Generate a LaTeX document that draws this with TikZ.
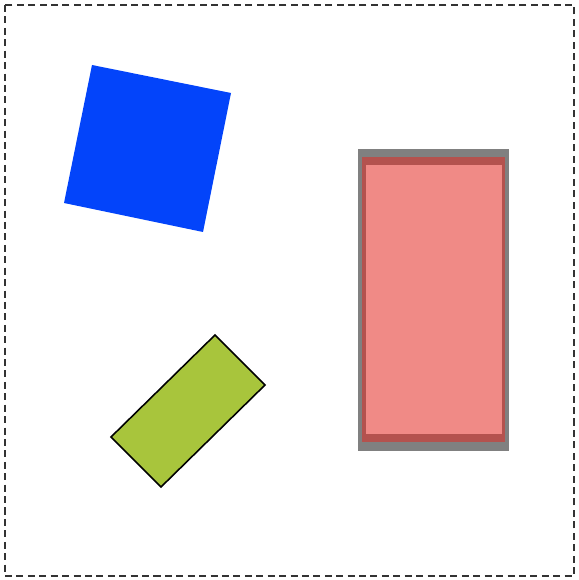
\documentclass[tikz,border=0pt]{standalone}

\definecolor{sqblue}{RGB}{3,68,250}
\definecolor{barGreen}{RGB}{168,197,60}
\definecolor{boxGray}{RGB}{128,128,128}
\definecolor{boxRed}{RGB}{180,82,78}
\definecolor{boxPink}{RGB}{240,138,134}

\begin{document}
\begin{tikzpicture}[x=0.02cm, y=-0.02cm]
    \useasboundingbox (0,0) rectangle (578,580);
    % gestrichelter Rahmen
    \draw[line width=0.7pt, black!80, dash pattern=on 4pt off 2.5pt] (5,5) rectangle (574,576);

    % blaues Quadrat, leicht gedreht
    \fill[sqblue] (92,65) -- (231,93) -- (203,232) -- (64,203) -- cycle;

    % gruenes Rechteck mit schwarzem Rand
    \filldraw[fill=barGreen, draw=black, line width=0.9pt]
        (215,335) -- (265,385) -- (161,487) -- (111,437) -- cycle;

    % Rechteck rechts: grau, dunkelrot, rosa
    \fill[boxGray] (358,149) rectangle (509,451);
    \fill[boxRed] (362,157) rectangle (505,442);
    \fill[boxPink] (366,165) rectangle (502,434);
\end{tikzpicture}
\end{document}
